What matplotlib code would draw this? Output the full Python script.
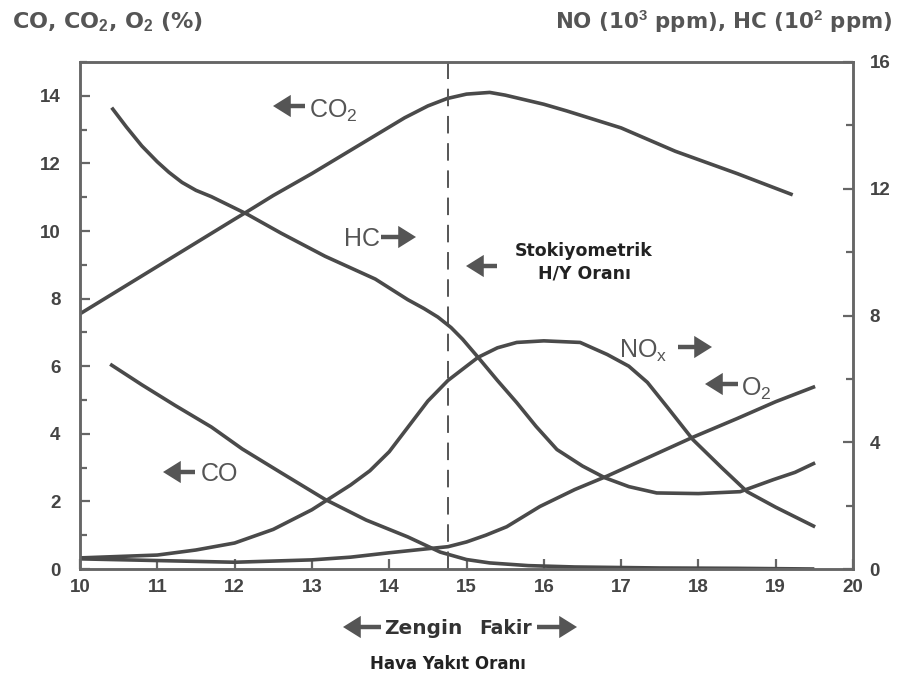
import matplotlib
matplotlib.use("Agg")
import matplotlib.pyplot as plt
from matplotlib.patches import FancyArrowPatch
from matplotlib.ticker import MultipleLocator

plt.rcParams['font.family'] = ['Liberation Sans', 'DejaVu Sans']
plt.rcParams['mathtext.fontset'] = 'custom'
plt.rcParams['mathtext.rm'] = 'Liberation Sans'
plt.rcParams['mathtext.bf'] = 'Liberation Sans:bold'

# air/fuel ratio readings
co2_x = [10, 10.5, 11, 11.5, 12, 12.16, 12.5, 13, 13.4, 13.8, 14.2, 14.5, 14.75,
         15.0, 15.3, 15.5, 16.0, 16.3, 17.0, 17.7, 18.5, 19.22]
co2_y = [7.55, 8.25, 8.95, 9.65, 10.35, 10.57, 11.05, 11.7, 12.25, 12.8, 13.35, 13.7,
         13.92, 14.05, 14.1, 14.02, 13.75, 13.55, 13.05, 12.36, 11.7, 11.07]

co_x = [10.39, 10.8, 11.23, 11.7, 12.1, 12.6, 13.17, 13.7, 14.24, 14.66, 15.0, 15.3,
        15.8, 16.4, 17.5, 18.5, 19.5]
co_y = [6.06, 5.45, 4.84, 4.2, 3.55, 2.85, 2.06, 1.45, 0.95, 0.5, 0.28, 0.18,
        0.1, 0.06, 0.03, 0.02, 0.0]

o2_x = [10, 11, 12, 13, 13.5, 14, 14.5, 14.76, 15.0, 15.25, 15.52, 15.95, 16.4,
        16.82, 17.4, 17.93, 18.5, 19.0, 19.51]
o2_y = [0.3, 0.25, 0.2, 0.27, 0.35, 0.48, 0.6, 0.66, 0.8, 1.0, 1.25, 1.85, 2.35,
        2.75, 3.35, 3.9, 4.45, 4.95, 5.4]

# right axis: HC (10^2 ppm), NOx (10^3 ppm)
hc_x = [10.41, 10.6, 10.8, 11.0, 11.15, 11.32, 11.5, 11.7, 12.16, 12.6, 13.17, 13.82,
        14.24, 14.45, 14.63, 14.8, 14.95, 15.15, 15.4, 15.65, 15.9, 16.17, 16.5, 16.79,
        17.1, 17.46, 18.0, 18.54, 18.97, 19.25, 19.51]
hc_y = [14.56, 13.95, 13.35, 12.85, 12.52, 12.2, 11.95, 11.75, 11.2, 10.6, 9.87, 9.15,
        8.5, 8.22, 7.95, 7.62, 7.25, 6.68, 5.95, 5.25, 4.5, 3.77, 3.25, 2.88,
        2.6, 2.4, 2.38, 2.44, 2.82, 3.05, 3.35]

nox_x = [10, 11, 11.5, 12, 12.5, 13, 13.5, 13.75, 14.0, 14.25, 14.5, 14.76, 15.0, 15.15,
         15.4, 15.65, 16.0, 16.47, 16.82, 17.1, 17.34, 17.6, 17.93, 18.3, 18.63, 19.0,
         19.51]
nox_y = [0.35, 0.44, 0.6, 0.82, 1.25, 1.87, 2.65, 3.1, 3.7, 4.5, 5.3, 5.95, 6.4, 6.68,
         6.98, 7.15, 7.2, 7.15, 6.77, 6.4, 5.89, 5.1, 4.08, 3.2, 2.44, 1.95,
         1.33]

stoich = 14.76

W, H = 900, 680
LINE = '#4a4a4a'
GREY = '#555555'
BOLD = ['DejaVu Sans']

fig = plt.figure(figsize=(9, 6.8), dpi=100)
ax = fig.add_axes([80 / W, 1 - 569 / H, 773 / W, 507 / H])
ax2 = ax.twinx()

for x, y in [(co2_x, co2_y), (co_x, co_y), (o2_x, o2_y)]:
    ax.plot(x, y, color=LINE, lw=2.6, solid_capstyle='butt', solid_joinstyle='round')
for x, y in [(hc_x, hc_y), (nox_x, nox_y)]:
    ax2.plot(x, y, color=LINE, lw=2.6, solid_capstyle='butt', solid_joinstyle='round')

ax.axvline(stoich, color=GREY, lw=1.4, dashes=(9, 5))

ax.set_xlim(10, 20)
ax.set_ylim(0, 15)
ax2.set_ylim(0, 16)
ax.xaxis.set_major_locator(MultipleLocator(1))
ax.yaxis.set_major_locator(MultipleLocator(2))
ax.yaxis.set_minor_locator(MultipleLocator(1))
ax2.yaxis.set_major_locator(MultipleLocator(4))
ax2.yaxis.set_minor_locator(MultipleLocator(2))

for a in (ax, ax2):
    for s in a.spines.values():
        s.set_color('#666666')
        s.set_linewidth(1.8)
    a.tick_params(which='both', direction='in', color='#666666', width=1.6,
                  labelsize=13.5, labelcolor='#444444')
    a.tick_params(which='major', length=7)
    a.tick_params(which='minor', length=5)
    for lab in a.get_xticklabels() + a.get_yticklabels():
        lab.set_fontweight('bold')
ax.tick_params(axis='y', pad=14)
ax2.tick_params(axis='y', pad=12)
ax.tick_params(axis='x', pad=7)


def fx(px):
    return px / W


def fy(py):
    return 1 - py / H


def arrow(x0, x1, y):
    fig.add_artist(FancyArrowPatch(
        (fx(x0), fy(y)), (fx(x1), fy(y)), transform=fig.transFigure,
        arrowstyle='simple,head_length=0.8,head_width=1.0,tail_width=0.2',
        mutation_scale=16, color=GREY, lw=0, shrinkA=0, shrinkB=0))


fig.text(fx(12), fy(22), 'CO, CO$_\\mathbf{2}$, O$_\\mathbf{2}$ (%)', fontsize=16,
         fontweight='bold', color=GREY, va='center', ha='left', family=BOLD)
fig.text(fx(893), fy(22), 'NO (10$^\\mathbf{3}$ ppm), HC (10$^\\mathbf{2}$ ppm)', fontsize=15.4,
         fontweight='bold', color=GREY, va='center', ha='right', family=BOLD)

# curve labels
arrow(305, 273, 106)
fig.text(fx(309), fy(111), 'CO$_2$', fontsize=18, color=GREY, va='center')
fig.text(fx(344), fy(239), 'HC', fontsize=18, color=GREY, va='center')
arrow(381, 416, 237)
fig.text(fx(619), fy(351), 'NO$_\\mathrm{x}$', fontsize=18, color=GREY, va='center')
arrow(678, 712, 347)
arrow(738, 705, 384)
fig.text(fx(741), fy(389), 'O$_2$', fontsize=18, color=GREY, va='center')
arrow(195, 163, 472)
fig.text(fx(201), fy(474), 'CO', fontsize=18, color=GREY, va='center')

arrow(497, 466, 266)
fig.text(fx(584), fy(262), 'Stokiyometrik\nH/Y Oranı', fontsize=12.5, fontweight='bold',
         color='#222222', ha='center', va='center', linespacing=1.3, family=BOLD)

# x axis captions
arrow(381, 343, 627)
fig.text(fx(384), fy(628), 'Zengin', fontsize=14.5, fontweight='bold', color='#333333',
         va='center', family=BOLD)
fig.text(fx(479), fy(628), 'Fakir', fontsize=13.5, fontweight='bold', color='#333333',
         va='center', family=BOLD)
arrow(537, 577, 627)
fig.text(fx(448), fy(664), 'Hava Yakıt Oranı', fontsize=12, fontweight='bold',
         color='#222222', ha='center', va='center', family=BOLD)

fig.savefig('out.png', dpi=100, facecolor='white')
